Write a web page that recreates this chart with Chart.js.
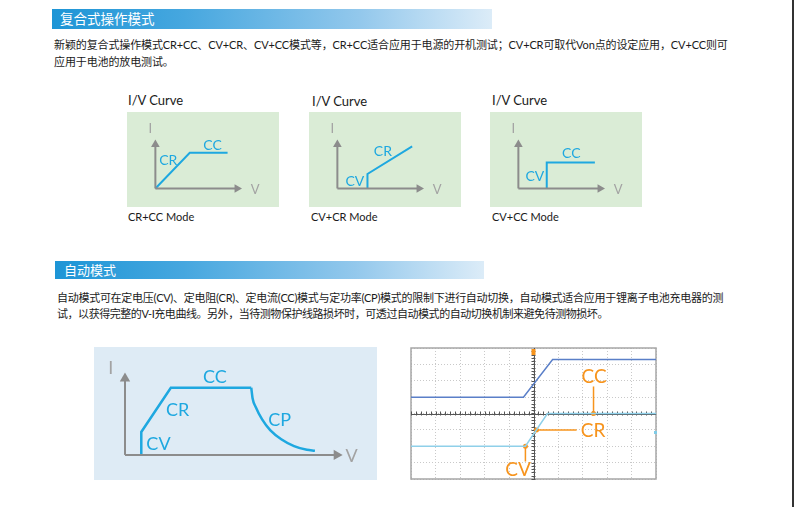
<!DOCTYPE html>
<html>
<head>
<meta charset="utf-8">
<script src="https://cdn.jsdelivr.net/npm/chart.js"></script>
<style>
body{margin:0;width:794px;height:507px;background:#fff;position:relative;overflow:hidden;font-family:Lato,"Noto Sans CJK SC",sans-serif;color:#1a1a1a}
.abs{position:absolute;white-space:nowrap}
.bar{position:absolute;background:linear-gradient(to right,#1d95d6 0%,#46a7df 30%,#93c8ec 70%,#dcecf8 100%);color:#fff;white-space:nowrap}
.p{font-size:11px;line-height:16px;letter-spacing:-0.12px}
.title{font-size:13px;line-height:16px}
.cap{font-size:11px;line-height:14px}
canvas{position:absolute}
.edge{position:absolute;left:792px;top:0;width:2px;height:507px;background:#333}
</style>
</head>
<body>
<div class="bar" style="left:52px;top:9px;width:432px;height:20px;font-size:13.5px;line-height:20px;padding-left:8px">复合式操作模式</div>
<div class="abs p" style="left:54px;top:37px">新颖的复合式操作模式CR+CC、CV+CR、CV+CC模式等，CR+CC适合应用于电源的开机测试；CV+CR可取代Von点的设定应用，CV+CC则可</div>
<div class="abs p" style="left:54px;top:54px">应用于电池的放电测试。</div>

<div class="abs title" style="left:128px;top:92px">I/V Curve</div>
<div class="abs title" style="left:312px;top:93px">I/V Curve</div>
<div class="abs title" style="left:492px;top:92px">I/V Curve</div>
<canvas id="c1" width="152" height="95" style="left:127px;top:112px;background:#daecd6"></canvas>
<canvas id="c2" width="152" height="95" style="left:309px;top:112px;background:#daecd6"></canvas>
<canvas id="c3" width="152" height="95" style="left:490px;top:112px;background:#daecd6"></canvas>
<div class="abs cap" style="left:128px;top:210px">CR+CC Mode</div>
<div class="abs cap" style="left:311px;top:210px">CV+CR Mode</div>
<div class="abs cap" style="left:492px;top:210px">CV+CC Mode</div>

<div class="bar" style="left:55px;top:261px;width:420px;height:18px;font-size:13px;line-height:18px;padding-left:9px">自动模式</div>
<div class="abs p" style="left:57px;top:290px;letter-spacing:-0.28px">自动模式可在定电压(CV)、定电阻(CR)、定电流(CC)模式与定功率(CP)模式的限制下进行自动切换，自动模式适合应用于锂离子电池充电器的测</div>
<div class="abs p" style="left:57px;top:306px;letter-spacing:-0.45px">试，以获得完整的V-I充电曲线。另外，当待测物保护线路损坏时，可透过自动模式的自动切换机制来避免待测物损坏。</div>

<canvas id="c4" width="283" height="133" style="left:94px;top:347px;background:#deebf5"></canvas>
<canvas id="c5" width="260" height="150" style="left:405px;top:340px"></canvas>
<div class="edge"></div>

<script>
// I/V curves of the combined modes (V, I in arbitrary units)
var crccV = [0, 4.0, 8.4];
var crccI = [0, 7.4, 7.4];
var cvcrV = [3.5, 3.5, 8.7];
var cvcrI = [0, 3.0, 8.7];
var cvccV = [3.3, 3.3, 8.9];
var cvccI = [0, 5.4, 5.4];

// auto mode curve: CV -> CR -> CC, then CP
var autoV = [0.75, 0.75, 2.11, 5.81];
var autoI = [0, 2.8, 8.2, 8.2];
var cpV = [5.81, 5.87, 6.02, 6.31, 6.68, 7.19, 7.78, 8.37, 8.74];
var cpI = [8.2, 6.92, 5.81, 4.33, 3.03, 1.92, 1.08, 0.63, 0.52];

// scope traces, in divisions
var ch1T = [-5, -0.41, 0.78, 5];
var ch1Y = [1, 1, 3.3, 3.3];
var ch2T = [-5, -0.33, 0.57, 5];
var ch2Y = [-2, -2, 0, 0];

var BLUE = '#1ea8e0', GREY = '#8c8c8c', ORANGE = '#f7941d';

function pts(xs, ys) {
  return xs.map(function (x, i) { return {x: x, y: ys[i]}; });
}

var marksPlugin = {
  id: 'marks',
  afterDatasetsDraw: function (chart, args, opts) {
    var ctx = chart.ctx, xs = chart.scales.x, ys = chart.scales.y;
    (opts.items || []).forEach(function (m) {
      ctx.save();
      ctx.font = m.font;
      ctx.fillStyle = m.color;
      ctx.textAlign = 'center';
      ctx.textBaseline = 'middle';
      ctx.fillText(m.text, xs.getPixelForValue(m.x), ys.getPixelForValue(m.y));
      ctx.restore();
    });
  }
};

// frame, centre cross and little markers of the scope screen
var scopePlugin = {
  id: 'scope',
  beforeDatasetsDraw: function (chart, args, opts) {
    if (!opts.on) return;
    var ctx = chart.ctx, a = chart.chartArea, xs = chart.scales.x, ys = chart.scales.y;
    var cx = xs.getPixelForValue(0), cy = ys.getPixelForValue(0);
    ctx.save();
    ctx.strokeStyle = '#a6a6a6';
    ctx.lineWidth = 1.5;
    ctx.strokeRect(a.left, a.top, a.right - a.left, a.bottom - a.top);
    ctx.strokeStyle = '#555';
    ctx.lineWidth = 1;
    ctx.beginPath();
    ctx.moveTo(a.left, Math.round(cy) + 0.5); ctx.lineTo(a.right, Math.round(cy) + 0.5);
    ctx.moveTo(Math.round(cx) + 0.5, a.top); ctx.lineTo(Math.round(cx) + 0.5, a.bottom);
    for (var t = -5; t <= 5; t += 0.2) {
      var px = Math.round(xs.getPixelForValue(t)) + 0.5;
      ctx.moveTo(px, cy - 2); ctx.lineTo(px, cy + 2);
    }
    for (var u = -4; u <= 4; u += 0.2) {
      var py = Math.round(ys.getPixelForValue(u)) + 0.5;
      ctx.moveTo(cx - 2, py); ctx.lineTo(cx + 2, py);
    }
    ctx.stroke();
    ctx.fillStyle = ORANGE;
    ctx.fillRect(cx - 2, a.top + 1, 4, 6);
    ctx.fillStyle = '#7fcbe6';
    ctx.fillRect(a.right - 2, ys.getPixelForValue(-1.16) - 1.5, 3, 3);
    ctx.restore();
  }
};

Chart.register(marksPlugin, scopePlugin);

function axes(xEnd, yEnd, r) {
  return [
    {data: pts([0, xEnd], [0, 0]), showLine: true, borderColor: GREY, backgroundColor: GREY, borderWidth: 2,
     pointStyle: 'triangle', rotation: 90, pointRadius: [0, r], pointBorderWidth: 0},
    {data: pts([0, 0], [0, yEnd]), showLine: true, borderColor: GREY, backgroundColor: GREY, borderWidth: 2,
     pointStyle: 'triangle', rotation: 0, pointRadius: [0, r], pointBorderWidth: 0}
  ];
}

function curve(xs, ys, w, extra) {
  var d = {data: pts(xs, ys), showLine: true, borderColor: BLUE, borderWidth: w, pointRadius: 0, tension: 0};
  for (var k in extra) d[k] = extra[k];
  return d;
}

function ivChart(id, datasets, range, items) {
  return new Chart(document.getElementById(id), {
    type: 'scatter',
    data: {datasets: datasets},
    options: {
      responsive: false, animation: false, devicePixelRatio: 1,
      layout: {padding: 0},
      plugins: {legend: {display: false}, tooltip: {enabled: false}, marks: {items: items}},
      scales: {
        x: {type: 'linear', min: range[0], max: range[1], display: false},
        y: {type: 'linear', min: range[2], max: range[3], display: false}
      }
    }
  });
}

var smallRange = [-2.72, 13.8, -2.8, 14.8];
var fAxis = '13px Lato', fMode = '14px Lato', AXC = '#a3a3a3';
function axisLabels(f) {
  return [
    {text: 'I', x: -0.6, y: 12.3, color: AXC, font: f},
    {text: 'V', x: 11.6, y: -0.3, color: AXC, font: f}
  ];
}

ivChart('c1', axes(9.5, 9.1, 5).concat([curve(crccV, crccI, 2)]), smallRange,
  axisLabels(fAxis).concat([
    {text: 'CC', x: 6.66, y: 8.9, color: BLUE, font: fMode},
    {text: 'CR', x: 1.49, y: 5.74, color: BLUE, font: fMode}
  ]));
ivChart('c2', axes(9.5, 9.1, 5).concat([curve(cvcrV, cvcrI, 2)]), smallRange,
  axisLabels(fAxis).concat([
    {text: 'CR', x: 5.29, y: 7.65, color: BLUE, font: fMode},
    {text: 'CV', x: 2.03, y: 1.48, color: BLUE, font: fMode}
  ]));
ivChart('c3', axes(9.5, 9.1, 5).concat([curve(cvccV, cvccI, 2)]), smallRange,
  axisLabels(fAxis).concat([
    {text: 'CC', x: 6.16, y: 7.2, color: BLUE, font: fMode},
    {text: 'CV', x: 1.92, y: 2.4, color: BLUE, font: fMode}
  ]));

var fBig = '18px Lato';
ivChart('c4', axes(9.74, 9.33, 6).concat([
    curve(autoV, autoI, 2.5),
    curve(cpV, cpI, 2.5, {cubicInterpolationMode: 'monotone'})
  ]), [-1.15, 11.32, -2.33, 12.44],
  [
    {text: 'I', x: -0.66, y: 10.56, color: AXC, font: '18px Lato'},
    {text: 'V', x: 10.43, y: -0.19, color: AXC, font: '18px Lato'},
    {text: 'CC', x: 4.14, y: 9.44, color: BLUE, font: fBig},
    {text: 'CR', x: 2.42, y: 5.44, color: BLUE, font: fBig},
    {text: 'CP', x: 7.12, y: 4.22, color: BLUE, font: fBig},
    {text: 'CV', x: 1.54, y: 1.37, color: BLUE, font: fBig}
  ]);

// oscilloscope capture
function pointer(xs, ys) {
  return {data: pts(xs, ys), showLine: true, borderColor: ORANGE, backgroundColor: ORANGE,
          borderWidth: 1.5, pointRadius: [2.5, 0], pointBorderWidth: 0};
}
var fScope = '19px Lato';
new Chart(document.getElementById('c5'), {
  type: 'scatter',
  data: {datasets: [
    {data: pts(ch1T, ch1Y), showLine: true, borderColor: '#5a7fc8', borderWidth: 1.5, pointRadius: 0},
    {data: pts(ch2T, ch2Y), showLine: true, borderColor: '#8fd0e9', borderWidth: 1.5, pointRadius: 0},
    pointer([2.45, 2.45], [0, 1.65]),
    pointer([0.12, 1.76], [-1, -1]),
    pointer([-0.33, -0.33], [-2, -2.93])
  ]},
  options: {
    responsive: false, animation: false, devicePixelRatio: 1,
    layout: {padding: {left: 6, top: 8, right: 9, bottom: 11}},
    plugins: {
      legend: {display: false}, tooltip: {enabled: false}, scope: {on: true},
      marks: {items: [
        {text: 'CC', x: 2.47, y: 2.26, color: ORANGE, font: fScope},
        {text: 'CR', x: 2.43, y: -1.04, color: ORANGE, font: fScope},
        {text: 'CV', x: -0.63, y: -3.42, color: ORANGE, font: fScope}
      ]}
    },
    scales: {
      x: {type: 'linear', min: -5, max: 5, ticks: {display: false, stepSize: 1},
          grid: {color: '#c9c9c9', drawTicks: false, tickLength: 0}, border: {display: false, dash: [1, 2]}},
      y: {type: 'linear', min: -4, max: 4, ticks: {display: false, stepSize: 1},
          grid: {color: '#c9c9c9', drawTicks: false, tickLength: 0}, border: {display: false, dash: [1, 2]}}
    }
  }
});
</script>
</body>
</html>
